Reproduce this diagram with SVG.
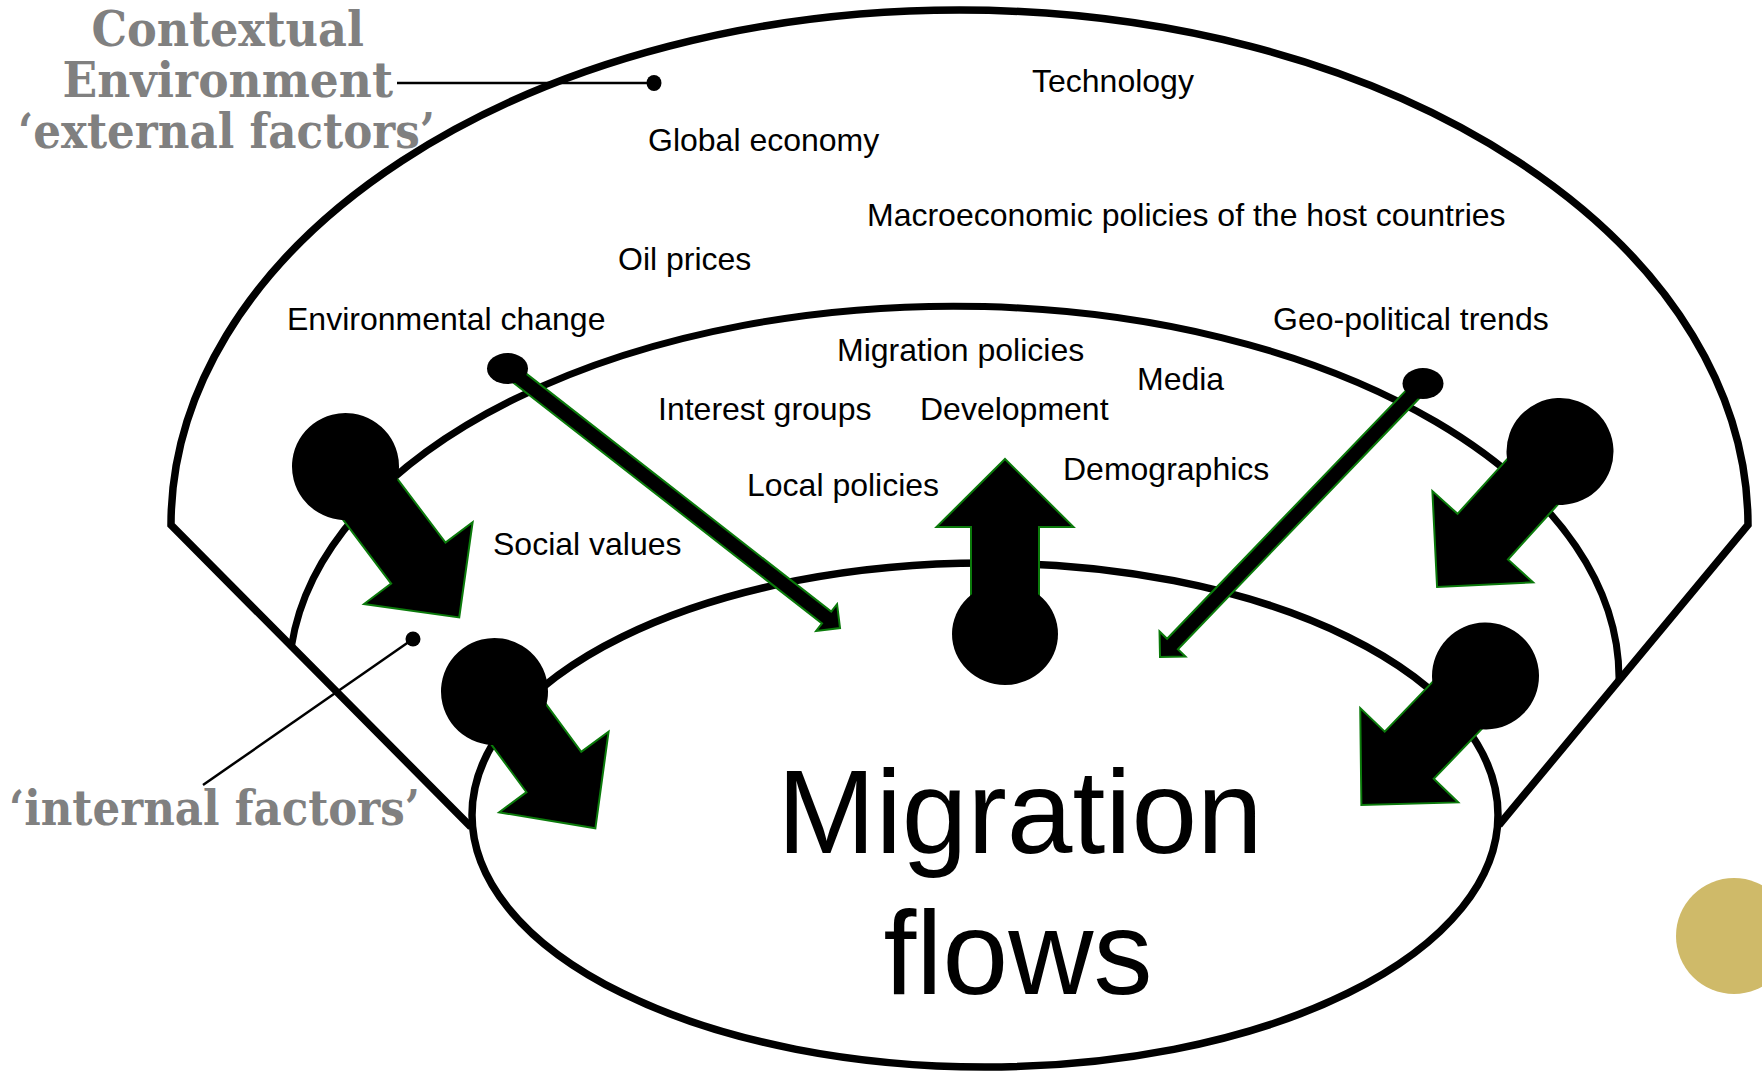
<svg xmlns="http://www.w3.org/2000/svg" width="1762" height="1071" viewBox="0 0 1762 1071">
  <style>
    .ring { fill: none; stroke: #000; stroke-width: 7.5; stroke-linejoin: miter; }
    .lbl { font-family: "Liberation Sans", Arial, sans-serif; font-size: 32px; fill: #000; }
    .ctx { font-family: "DejaVu Serif", "Liberation Serif", serif; font-weight: bold; font-size: 48px; fill: #808080; }
    .big { font-family: "Liberation Sans", Arial, sans-serif; font-size: 118px; fill: #000; text-anchor: middle; }
    .fat { fill: #000; stroke: #0b7a0b; stroke-width: 2; stroke-linejoin: miter; }
    .knob { fill: #000; }
    .pointer { stroke: #000; stroke-width: 2.5; fill: none; }
  </style>

  <rect width="1762" height="1071" fill="#fff"/>

  <!-- grey captions -->
  <g id="caption-external">
    <text class="ctx" x="91.5" y="46" textLength="272.5" lengthAdjust="spacingAndGlyphs">Contextual</text>
    <text class="ctx" x="62.5" y="97" textLength="330.5" lengthAdjust="spacingAndGlyphs">Environment</text>
    <text class="ctx" x="18" y="148" textLength="417" lengthAdjust="spacingAndGlyphs">‘external factors’</text>
  </g>
  <g id="caption-internal">
    <text class="ctx" x="9" y="825" textLength="411" lengthAdjust="spacingAndGlyphs">‘internal factors’</text>
  </g>

  <!-- outer cone: contextual environment -->
  <g id="ring-contextual">
    <path class="ring" d="M 471 827 L 171 525 A 788.5 515 0 0 1 1748 525 L 1499 825"/>
  </g>

  <!-- middle band: internal factors -->
  <g id="ring-internal">
    <path class="ring" style="stroke-width:7" d="M 291.5 646 A 665 372 0 0 1 1619 680"/>
  </g>

  <!-- core: migration flows -->
  <g id="ring-migration">
    <ellipse class="ring" cx="985" cy="815" rx="513" ry="252"/>
    <text class="big" x="1020" y="853">Migration</text>
    <text class="big" x="1018" y="994">flows</text>
  </g>

  <!-- factor labels -->
  <g id="labels-external">
    <text class="lbl" x="1032" y="92">Technology</text>
    <text class="lbl" x="648" y="151">Global economy</text>
    <text class="lbl" x="867" y="226">Macroeconomic policies of the host countries</text>
    <text class="lbl" x="618" y="270">Oil prices</text>
    <text class="lbl" x="287" y="330">Environmental change</text>
    <text class="lbl" x="1273" y="330">Geo-political trends</text>
  </g>
  <g id="labels-internal">
    <text class="lbl" x="837" y="361">Migration policies</text>
    <text class="lbl" x="1137" y="390">Media</text>
    <text class="lbl" x="658" y="420">Interest groups</text>
    <text class="lbl" x="920" y="420">Development</text>
    <text class="lbl" x="1063" y="480">Demographics</text>
    <text class="lbl" x="747" y="496">Local policies</text>
    <text class="lbl" x="493" y="555">Social values</text>
  </g>

  <!-- connectors -->
  <g id="connectors">
    <!-- caption pointers -->
    <line class="pointer" x1="397" y1="83" x2="654" y2="83"/>
    <ellipse class="knob" cx="654" cy="83" rx="7.5" ry="8"/>
    <line class="pointer" x1="203" y1="785" x2="413" y2="639"/>
    <ellipse class="knob" cx="413" cy="639" rx="7.5" ry="7.5"/>

    <!-- slim arrows from the outer environment -->
    <g transform="translate(507.5 368.5) rotate(37.97)">
      <polygon class="fat" points="0,-7.5 404.8,-7.5 404.8,-17 421.8,0 404.8,17 404.8,7.5 0,7.5"/>
      <ellipse class="knob" cx="0" cy="0" rx="20.5" ry="15.5" transform="rotate(-37.97)"/>
    </g>
    <g transform="translate(1423 383.5) rotate(133.88)">
      <polygon class="fat" points="0,-7.5 361.4,-7.5 361.4,-18 379.4,0 361.4,18 361.4,7.5 0,7.5"/>
      <ellipse class="knob" cx="0" cy="0" rx="20.5" ry="15.5" transform="rotate(-133.88)"/>
    </g>

    <!-- heavy keyhole arrows -->
    <g transform="translate(345.5 466.5) rotate(53)">
      <polygon class="fat" points="0,-34 121,-34 121,-68 189,0 121,68 121,34 0,34"/>
      <circle class="knob" cx="0" cy="0" r="53.5"/>
    </g>
    <g transform="translate(494.5 691.5) rotate(53.6)">
      <polygon class="fat" points="0,-34 100,-34 100,-68 170,0 100,68 100,34 0,34"/>
      <circle class="knob" cx="0" cy="0" r="53.5"/>
    </g>
    <g transform="translate(1005 634) rotate(-90)">
      <polygon class="fat" points="0,-34 107,-34 107,-68.5 175,0 107,68.5 107,34 0,34"/>
      <ellipse class="knob" cx="0" cy="0" rx="51" ry="53"/>
    </g>
    <g transform="translate(1560 451.5) rotate(132.2)">
      <polygon class="fat" points="0,-34 115,-34 115,-68 183,0 115,68 115,34 0,34"/>
      <circle class="knob" cx="0" cy="0" r="53.5"/>
    </g>
    <g transform="translate(1485.5 676) rotate(133.9)">
      <polygon class="fat" points="0,-34 110,-34 110,-68 179,0 110,68 110,34 0,34"/>
      <circle class="knob" cx="0" cy="0" r="53.5"/>
    </g>
  </g>

  <!-- slide ornament -->
  <circle cx="1734" cy="936" r="58" fill="#cfba69"/>
</svg>
